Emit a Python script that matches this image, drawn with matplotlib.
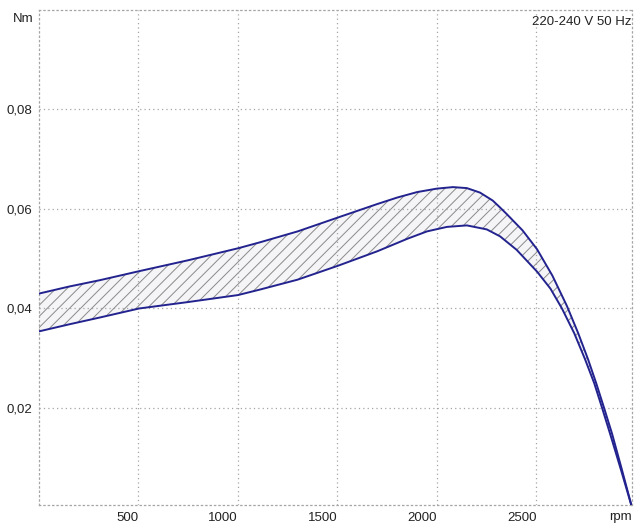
import matplotlib
matplotlib.use("Agg")
import matplotlib.pyplot as plt
import numpy as np

# data
rpm_upper = [0, 150, 307, 503, 750, 1000, 1110, 1300, 1503, 1700, 1800, 1900, 2000, 2080,
             2150, 2216, 2280, 2317, 2350, 2430, 2503, 2580, 2653, 2710, 2759, 2800, 2839,
             2880, 2930, 2980]
nm_upper = [0.0430, 0.0444, 0.0457, 0.0475, 0.0497, 0.0521, 0.0533, 0.0555, 0.0583, 0.0610,
            0.0623, 0.0634, 0.0641, 0.0644, 0.0642, 0.0633, 0.0617, 0.0603, 0.0590, 0.0557,
            0.0519, 0.0466, 0.0405, 0.0350, 0.0298, 0.0250, 0.0201, 0.0148, 0.0075, 0.0]

rpm_lower = [0, 150, 307, 503, 750, 1000, 1110, 1300, 1503, 1700, 1850, 1950, 2050, 2150,
             2250, 2317, 2400, 2503, 2570, 2628, 2690, 2744, 2790, 2829, 2870, 2925, 2980]
nm_lower = [0.0354, 0.0368, 0.0382, 0.0400, 0.0413, 0.0427, 0.0438, 0.0458, 0.0486, 0.0515,
            0.0540, 0.0555, 0.0564, 0.0567, 0.0559, 0.0545, 0.0518, 0.0474, 0.0440, 0.0400,
            0.0350, 0.0298, 0.0250, 0.0201, 0.0148, 0.0075, 0.0]

x_ticks = [500, 1000, 1500, 2000, 2500]
x_labels = ["500", "1000", "1500", "2000", "2500"]
y_ticks = [0.02, 0.04, 0.06, 0.08]
y_labels = ["0,02", "0,04", "0,06", "0,08"]

plt.rcParams["font.family"] = ["Liberation Sans", "DejaVu Sans"]
plt.rcParams["hatch.linewidth"] = 0.7
plt.rcParams["hatch.color"] = "#8a8a8a"

fig = plt.figure(figsize=(6.35, 5.28), dpi=100)
ax = fig.add_axes([39 / 635, 23 / 528, 593 / 635, 495 / 528])

# band between the curves as one closed polygon
band_x = np.concatenate([rpm_upper, rpm_lower[::-1]])
band_y = np.concatenate([nm_upper, nm_lower[::-1]])
ax.fill(band_x, band_y, facecolor="#f5f5f8", edgecolor="#8a8a8a", hatch="///",
        linewidth=0, zorder=1)

blue = "#23238f"
ax.plot(rpm_upper, nm_upper, color=blue, lw=1.4, zorder=3)
ax.plot(rpm_lower, nm_lower, color=blue, lw=1.4, zorder=3)

ax.set_xlim(0, 2980)
ax.set_ylim(0.0005, 0.1)
ax.set_xticks(x_ticks)
ax.set_xticklabels(x_labels)
ax.set_yticks(y_ticks)
ax.set_yticklabels(y_labels)
ax.tick_params(length=0, labelsize=9.5, colors="#222222", pad=5)
for lab in ax.get_xticklabels():
    lab.set_horizontalalignment("right")

ax.grid(True, color="#a5a5a5", linestyle=(0, (1, 2.5)), linewidth=0.9)
for sp in ax.spines.values():
    sp.set_linestyle((0, (1, 2.5)))
    sp.set_color("#a5a5a5")
    sp.set_linewidth(0.9)

ax.annotate("Nm", xy=(0, 1), xycoords="axes fraction", xytext=(-5, -9),
            textcoords="offset pixels", ha="right", va="center", fontsize=9.5, color="#222222")
ax.annotate("rpm", xy=(1, 0), xycoords="axes fraction", xytext=(0, -12),
            textcoords="offset pixels", ha="right", va="center", fontsize=9.5, color="#222222")
ax.annotate("220-240 V 50 Hz", xy=(1, 1), xycoords="axes fraction", xytext=(0, -12),
            textcoords="offset pixels", ha="right", va="center", fontsize=9.5, color="#222222")

fig.savefig("out.png", dpi=100)
